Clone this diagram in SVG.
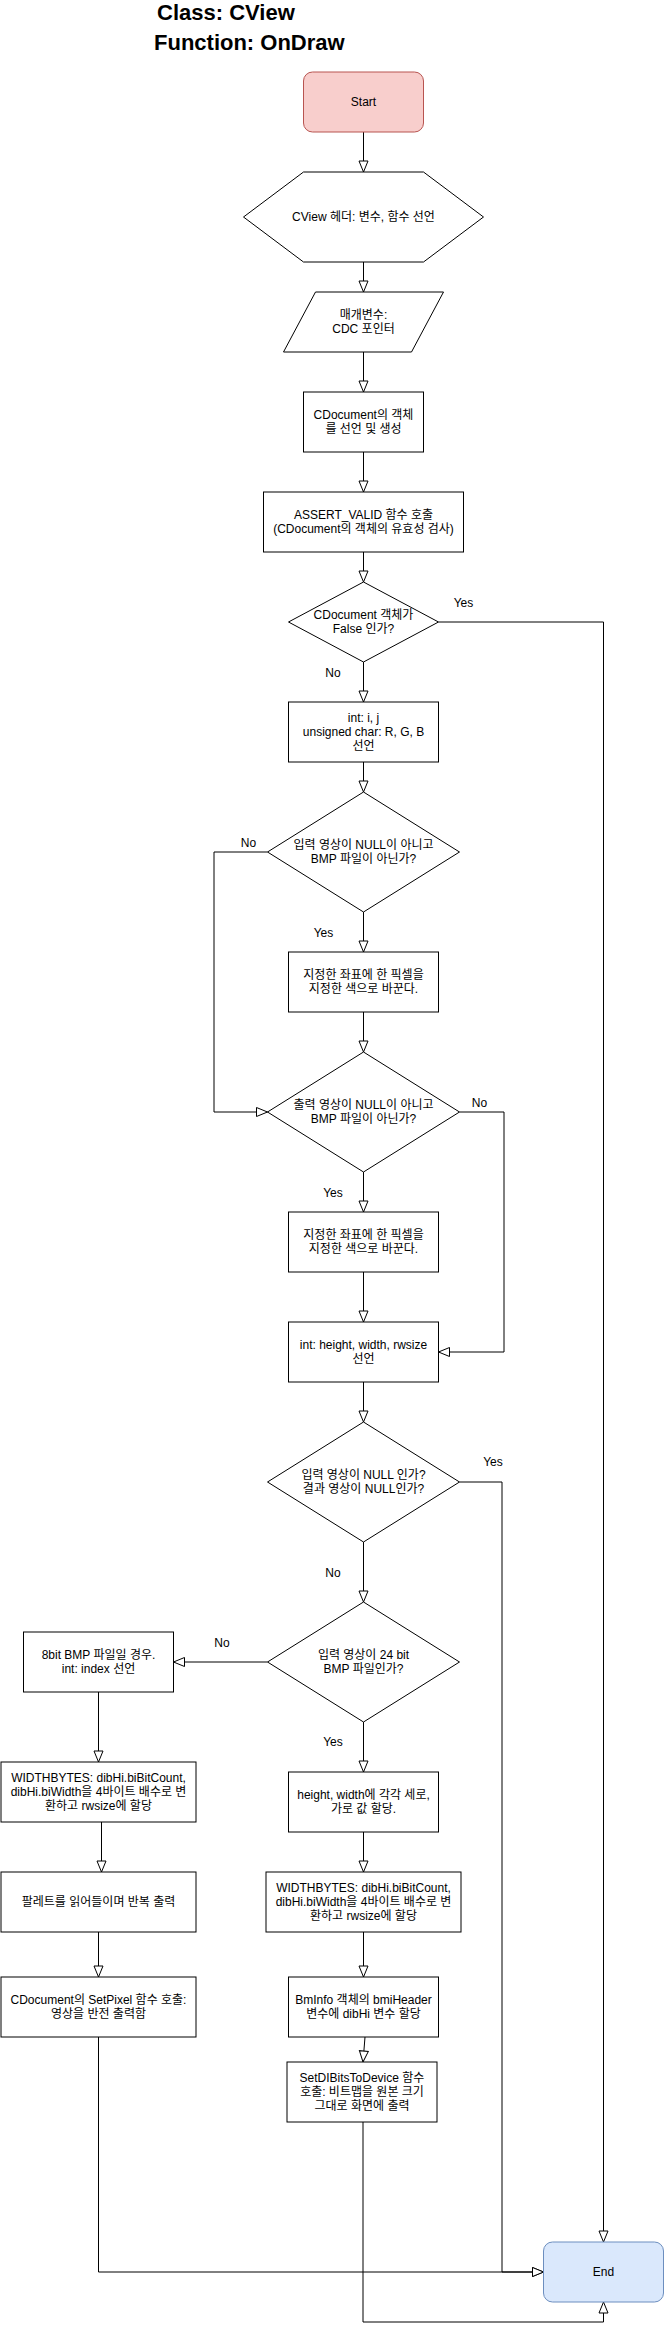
<svg xmlns="http://www.w3.org/2000/svg" width="664" height="2336" viewBox="0 0 664 2336">
<style>
text{font-family:'Liberation Sans','Noto Sans CJK KR',sans-serif;font-size:12px;fill:#000;text-anchor:middle}
.title{font-size:22px;font-weight:bold;text-anchor:start}
.box{fill:#fff;stroke:#000;stroke-width:1}
.start{fill:#f8cecc;stroke:#b85450;stroke-width:1}
.end{fill:#dae8fc;stroke:#6c8ebf;stroke-width:1}
.edge{fill:none;stroke:#000;stroke-width:1}
.lbl{text-anchor:middle}
</style>
<defs>
<marker id="arr" markerUnits="userSpaceOnUse" markerWidth="13" markerHeight="11" refX="11" refY="4.5" orient="auto" viewBox="-1 -1 13 11">
<path d="M0,0 L11,4.5 L0,9 Z" fill="#fff" stroke="#000" stroke-width="1"/>
</marker>
</defs>
<rect width="664" height="2336" fill="#fff"/>
<g id="title">
<text class="title" x="157" y="20">Class: CView</text>
<text class="title" x="154" y="50">Function: OnDraw</text>
</g>
<g id="connectors">
<path class="edge" d="M363.5,132 V172" marker-end="url(#arr)"/>
<path class="edge" d="M363.5,262 V292" marker-end="url(#arr)"/>
<path class="edge" d="M363.5,352 V392" marker-end="url(#arr)"/>
<path class="edge" d="M363.5,452 V492" marker-end="url(#arr)"/>
<path class="edge" d="M363.5,552 V582" marker-end="url(#arr)"/>
<path class="edge" d="M438.5,622 H603.5 V2242" marker-end="url(#arr)"/>
<path class="edge" d="M363.5,662 V702" marker-end="url(#arr)"/>
<path class="edge" d="M363.5,762 V792" marker-end="url(#arr)"/>
<path class="edge" d="M267.5,852 H214 V1112 H267.5" marker-end="url(#arr)"/>
<path class="edge" d="M363.5,912 V952" marker-end="url(#arr)"/>
<path class="edge" d="M363.5,1012 V1052" marker-end="url(#arr)"/>
<path class="edge" d="M459.5,1112 H504 V1352 H438.5" marker-end="url(#arr)"/>
<path class="edge" d="M363.5,1172 V1212" marker-end="url(#arr)"/>
<path class="edge" d="M363.5,1272 V1322" marker-end="url(#arr)"/>
<path class="edge" d="M363.5,1382 V1422" marker-end="url(#arr)"/>
<path class="edge" d="M459.5,1482 H502 V2272 H543.5" marker-end="url(#arr)"/>
<path class="edge" d="M363.5,1542 V1602" marker-end="url(#arr)"/>
<path class="edge" d="M267.5,1662 H173.5" marker-end="url(#arr)"/>
<path class="edge" d="M363.5,1722 V1772" marker-end="url(#arr)"/>
<path class="edge" d="M98.5,1692 V1762" marker-end="url(#arr)"/>
<path class="edge" d="M101.5,1822 V1872" marker-end="url(#arr)"/>
<path class="edge" d="M98.5,1932 V1977" marker-end="url(#arr)"/>
<path class="edge" d="M98.5,2037 V2272 H543.5" marker-end="url(#arr)"/>
<path class="edge" d="M363.5,1832 V1872" marker-end="url(#arr)"/>
<path class="edge" d="M363.5,1932 V1977" marker-end="url(#arr)"/>
<path class="edge" d="M365,2037 L363,2062" marker-end="url(#arr)"/>
<path class="edge" d="M363,2122 V2322 H603.5 V2302" marker-end="url(#arr)"/>
<text class="lbl" x="463.5" y="607">Yes</text>
<text class="lbl" x="333" y="677">No</text>
<text class="lbl" x="248.5" y="847">No</text>
<text class="lbl" x="323.5" y="937">Yes</text>
<text class="lbl" x="479.5" y="1107">No</text>
<text class="lbl" x="333" y="1197">Yes</text>
<text class="lbl" x="493" y="1466">Yes</text>
<text class="lbl" x="333" y="1577">No</text>
<text class="lbl" x="222" y="1647">No</text>
<text class="lbl" x="333" y="1746">Yes</text>
</g>
<g id="start">
<rect class="start" x="303.5" y="72" width="120" height="60" rx="9"/>
<text x="363.5" y="106">Start</text>
</g>
<g id="header">
<polygon class="box" points="243.5,217 303.5,172 423.5,172 483.5,217 423.5,262 303.5,262"/>
<text x="363.5" y="221">CView 헤더: 변수, 함수 선언</text>
</g>
<g id="param">
<polygon class="box" points="315.5,292 443.5,292 411.5,352 283.5,352"/>
<text x="363.5" y="319">매개변수:</text>
<text x="363.5" y="333">CDC 포인터</text>
</g>
<g id="cdoc">
<rect class="box" x="303.5" y="392" width="120" height="60"/>
<text x="363.5" y="419">CDocument의 객체</text>
<text x="363.5" y="433">를 선언 및 생성</text>
</g>
<g id="assert">
<rect class="box" x="263.5" y="492" width="200" height="60"/>
<text x="363.5" y="519">ASSERT_VALID 함수 호출</text>
<text x="363.5" y="533">(CDocument의 객체의 유효성 검사)</text>
</g>
<g id="d1">
<polygon class="box" points="363.5,582 438.5,622 363.5,662 288.5,622"/>
<text x="363.5" y="619">CDocument 객체가</text>
<text x="363.5" y="633">False 인가?</text>
</g>
<g id="vars">
<rect class="box" x="288.5" y="702" width="150" height="60"/>
<text x="363.5" y="722">int: i, j</text>
<text x="363.5" y="736">unsigned char: R, G, B</text>
<text x="363.5" y="750">선언</text>
</g>
<g id="d2">
<polygon class="box" points="363.5,792 459.5,852 363.5,912 267.5,852"/>
<text x="363.5" y="849">입력 영상이 NULL이 아니고</text>
<text x="363.5" y="863">BMP 파일이 아닌가?</text>
</g>
<g id="r1">
<rect class="box" x="288.5" y="952" width="150" height="60"/>
<text x="363.5" y="979">지정한 좌표에 한 픽셀을</text>
<text x="363.5" y="993">지정한 색으로 바꾼다.</text>
</g>
<g id="d3">
<polygon class="box" points="363.5,1052 459.5,1112 363.5,1172 267.5,1112"/>
<text x="363.5" y="1109">출력 영상이 NULL이 아니고</text>
<text x="363.5" y="1123">BMP 파일이 아닌가?</text>
</g>
<g id="r2">
<rect class="box" x="288.5" y="1212" width="150" height="60"/>
<text x="363.5" y="1239">지정한 좌표에 한 픽셀을</text>
<text x="363.5" y="1253">지정한 색으로 바꾼다.</text>
</g>
<g id="vars2">
<rect class="box" x="288.5" y="1322" width="150" height="60"/>
<text x="363.5" y="1349">int: height, width, rwsize</text>
<text x="363.5" y="1363">선언</text>
</g>
<g id="d4">
<polygon class="box" points="363.5,1422 459.5,1482 363.5,1542 267.5,1482"/>
<text x="363.5" y="1479">입력 영상이 NULL 인가?</text>
<text x="363.5" y="1493">결과 영상이 NULL인가?</text>
</g>
<g id="d5">
<polygon class="box" points="363.5,1602 459.5,1662 363.5,1722 267.5,1662"/>
<text x="363.5" y="1659">입력 영상이 24 bit</text>
<text x="363.5" y="1673">BMP 파일인가?</text>
</g>
<g id="bit8">
<rect class="box" x="23.5" y="1632" width="150" height="60"/>
<text x="98.5" y="1659">8bit BMP 파일일 경우.</text>
<text x="98.5" y="1673">int: index 선언</text>
</g>
<g id="wbleft">
<rect class="box" x="1" y="1762" width="195" height="60"/>
<text x="98.5" y="1782">WIDTHBYTES: dibHi.biBitCount,</text>
<text x="98.5" y="1796">dibHi.biWidth을 4바이트 배수로 변</text>
<text x="98.5" y="1810">환하고 rwsize에 할당</text>
</g>
<g id="palette">
<rect class="box" x="1" y="1872" width="195" height="60"/>
<text x="98.5" y="1906">팔레트를 읽어들이며 반복 출력</text>
</g>
<g id="setpixel">
<rect class="box" x="1" y="1977" width="195" height="60"/>
<text x="98.5" y="2004">CDocument의 SetPixel 함수 호출:</text>
<text x="98.5" y="2018">영상을 반전 출력함</text>
</g>
<g id="hw">
<rect class="box" x="288.5" y="1772" width="150" height="60"/>
<text x="363.5" y="1799">height, width에 각각 세로,</text>
<text x="363.5" y="1813">가로 값 할당.</text>
</g>
<g id="wbmid">
<rect class="box" x="266" y="1872" width="195" height="60"/>
<text x="363.5" y="1892">WIDTHBYTES: dibHi.biBitCount,</text>
<text x="363.5" y="1906">dibHi.biWidth을 4바이트 배수로 변</text>
<text x="363.5" y="1920">환하고 rwsize에 할당</text>
</g>
<g id="bminfo">
<rect class="box" x="288.5" y="1977" width="150" height="60"/>
<text x="363.5" y="2004">BmInfo 객체의 bmiHeader</text>
<text x="363.5" y="2018">변수에 dibHi 변수 할당</text>
</g>
<g id="setdibits">
<rect class="box" x="287" y="2062" width="150" height="60"/>
<text x="362" y="2082">SetDIBitsToDevice 함수</text>
<text x="362" y="2096">호출: 비트맵을 원본 크기</text>
<text x="362" y="2110">그대로 화면에 출력</text>
</g>
<g id="end">
<rect class="end" x="543.5" y="2242" width="120" height="60" rx="9"/>
<text x="603.5" y="2276">End</text>
</g>
</svg>
